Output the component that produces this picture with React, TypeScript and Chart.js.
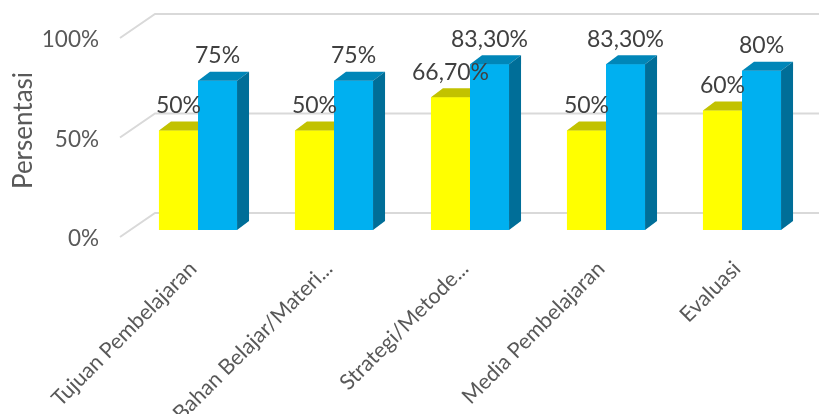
import React, { useEffect, useRef } from 'react';
import { Chart, registerables } from 'chart.js';

Chart.register(...registerables);

const categories = [
  'Tujuan Pembelajaran',
  'Bahan Belajar/Materi...',
  'Strategi/Metode...',
  'Media Pembelajaran',
  'Evaluasi',
];
const seriesYellow = [0.5, 0.5, 0.667, 0.5, 0.6];
const seriesBlue = [0.75, 0.75, 0.833, 0.833, 0.8];
const yTickValues = [0, 0.5, 1];
const yTitle = 'Persentasi';

const FONT = 'Lato, "Open Sans", sans-serif';
const TEXT = '#595959';
const LABEL = '#404040';
const GRID = '#D9D9D9';
const DEPTH_X = 12;
const DEPTH_Y = 9;

const faceColors = [
  { front: '#FFFF00', top: '#C2C200', side: '#9E9E00' },
  { front: '#00B0F0', top: '#0086B8', side: '#006E98' },
];

function fmtPct(v: number) {
  const p = Math.round(v * 1000) / 10;
  if (Number.isInteger(p)) return `${p}%`;
  return `${p.toFixed(2).replace('.', ',')}%`;
}

const gridPlugin = {
  id: 'grid3d',
  beforeDatasetsDraw(chart: any) {
    const { ctx, chartArea, scales } = chart;
    const y = scales.y;
    ctx.save();
    ctx.strokeStyle = GRID;
    ctx.lineWidth = 2;
    for (const v of yTickValues) {
      const py = y.getPixelForValue(v);
      ctx.beginPath();
      ctx.moveTo(chartArea.left - 10, py + 7);
      ctx.lineTo(chartArea.left + 25, py - 17);
      ctx.lineTo(chart.width, py - 17);
      ctx.stroke();
    }
    ctx.restore();
  },
};

const bar3dPlugin = {
  id: 'bar3d',
  afterDatasetsDraw(chart: any) {
    const { ctx } = chart;
    ctx.save();
    chart.data.datasets.forEach((ds: any, di: number) => {
      const colors = faceColors[di];
      const meta = chart.getDatasetMeta(di);
      for (const el of meta.data) {
        const { x, y, base, width } = el.getProps(['x', 'y', 'base', 'width'], true);
        const l = x - width / 2;
        const r = x + width / 2;
        ctx.fillStyle = colors.front;
        ctx.fillRect(l, y, width, base - y);
        ctx.fillStyle = colors.top;
        ctx.beginPath();
        ctx.moveTo(l, y);
        ctx.lineTo(r, y);
        ctx.lineTo(r + DEPTH_X, y - DEPTH_Y);
        ctx.lineTo(l + DEPTH_X, y - DEPTH_Y);
        ctx.closePath();
        ctx.fill();
        ctx.fillStyle = colors.side;
        ctx.beginPath();
        ctx.moveTo(r, y);
        ctx.lineTo(r + DEPTH_X, y - DEPTH_Y);
        ctx.lineTo(r + DEPTH_X, base - DEPTH_Y);
        ctx.lineTo(r, base);
        ctx.closePath();
        ctx.fill();
      }
    });
    ctx.font = `23px ${FONT}`;
    ctx.fillStyle = LABEL;
    ctx.textAlign = 'center';
    ctx.textBaseline = 'middle';
    chart.data.datasets.forEach((ds: any, di: number) => {
      const meta = chart.getDatasetMeta(di);
      meta.data.forEach((el: any, i: number) => {
        ctx.fillText(fmtPct(ds.data[i]), el.x, el.y - 25);
      });
    });
    ctx.restore();
  },
};

export default function App() {
  const ref = useRef<HTMLCanvasElement | null>(null);
  useEffect(() => {
    document.body.style.margin = '0';
    const chart = new Chart(ref.current as HTMLCanvasElement, {
      type: 'bar',
      data: {
        labels: categories,
        datasets: [
          {
            label: 'Seri 1',
            data: seriesYellow,
            backgroundColor: faceColors[0].front,
            categoryPercentage: 0.574,
            barPercentage: 1,
          },
          {
            label: 'Seri 2',
            data: seriesBlue,
            backgroundColor: faceColors[1].front,
            categoryPercentage: 0.574,
            barPercentage: 1,
          },
        ],
      },
      options: {
        animation: false,
        responsive: false,
        maintainAspectRatio: false,
        layout: { padding: { top: 31, right: 9, left: 0, bottom: 0 } },
        plugins: { legend: { display: false }, tooltip: { enabled: false } },
        scales: {
          x: {
            grid: { display: false, drawTicks: false },
            border: { display: false },
            ticks: {
              autoSkip: false,
              maxRotation: 45,
              minRotation: 45,
              padding: 26,
              labelOffset: -5,
              color: TEXT,
              font: { family: FONT, size: 21.5 },
            },
            afterFit: (s: any) => {
              s.height = 184;
              s.paddingLeft = 0;
              s.paddingRight = 0;
            },
          },
          y: {
            min: 0,
            max: 1,
            grid: { display: false, drawTicks: false },
            border: { display: false },
            ticks: {
              stepSize: 0.5,
              padding: 31,
              labelOffset: 9,
              color: TEXT,
              font: { family: FONT, size: 22.5 },
              callback: (v: any) => `${Math.round(Number(v) * 100)}%`,
            },
            title: {
              display: true,
              text: yTitle,
              color: TEXT,
              font: { family: FONT, size: 26 },
              padding: { top: 8, bottom: 4 },
            },
            afterFit: (s: any) => {
              s.width = 130;
              s.paddingTop = 0;
              s.paddingBottom = 0;
            },
          },
        },
      },
      plugins: [gridPlugin, bar3dPlugin],
    });
    return () => chart.destroy();
  }, []);
  return (
    <div style={{ width: 819, height: 414 }}>
      <canvas ref={ref} width={819} height={414} style={{ width: 819, height: 414 }} />
    </div>
  );
}
